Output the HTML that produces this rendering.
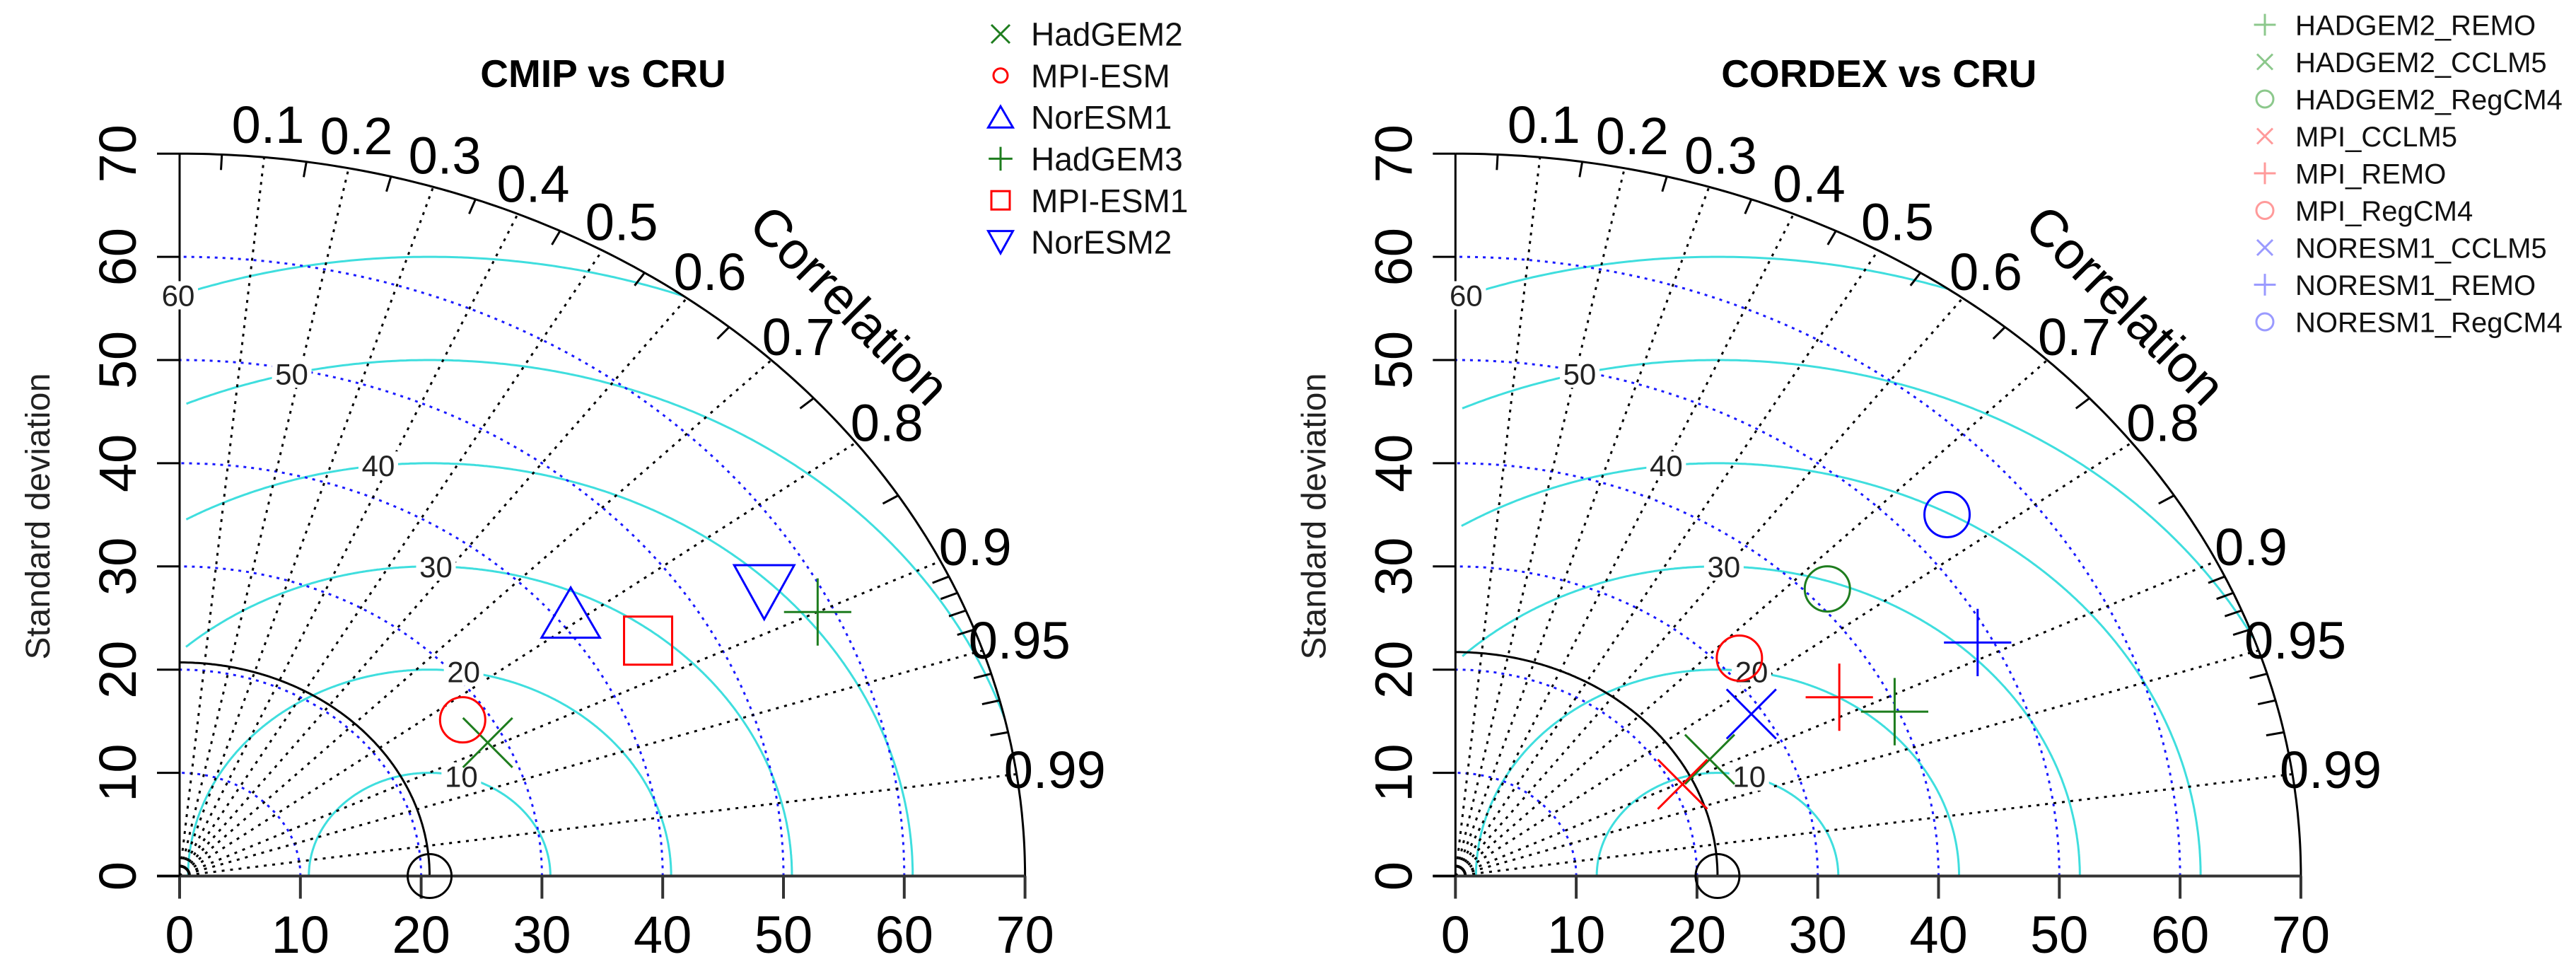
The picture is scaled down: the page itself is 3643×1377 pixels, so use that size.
<!DOCTYPE html>
<html><head><meta charset="utf-8"><style>
html,body{margin:0;padding:0;background:#fff;}
svg{display:block;}
text{font-family:"Liberation Sans",Arial,sans-serif;}
</style></head><body>
<svg id="chart" width="3643" height="1377" viewBox="0 0 3643 1377" xmlns="http://www.w3.org/2000/svg"></svg>
<script>
// ---------- data ----------
const corrTicks = [0.1,0.2,0.3,0.4,0.5,0.6,0.7,0.8,0.9,0.95,0.99];
const sdTicks = [0,10,20,30,40,50,60,70];
const rmsLevels = [10,20,30,40,50,60];
const cmipModels = ['HadGEM2','MPI-ESM','NorESM1','HadGEM3','MPI-ESM1','NorESM2'];
const cmipSd = [28.6,27.9,41.2,58.7,45.0,55.7];
const cmipCorr = [0.892,0.840,0.786,0.900,0.862,0.869];
const cmipShapes = ['x','o','tri','plus','sq','tridown'];
const cmipColors = ['#1e7d1e','#ff0000','#0000ff','#1e7d1e','#ff0000','#0000ff'];
const cmipRefSd = 20.7;
const cordexModels = ['HADGEM2_REMO','HADGEM2_CCLM5','HADGEM2_RegCM4','MPI_CCLM5','MPI_REMO','MPI_RegCM4','NORESM1_CCLM5','NORESM1_REMO','NORESM1_RegCM4'];
const cordexSd = [39.7,23.9,41.5,20.8,36.2,31.6,29.1,48.8,53.7];
const cordexCorr = [0.916,0.881,0.742,0.904,0.878,0.744,0.842,0.886,0.758];
const cordexShapes = ['plus','x','o','x','plus','o','x','plus','o'];
const cordexColors = ['#1e7d1e','#1e7d1e','#1e7d1e','#ff0000','#ff0000','#ff0000','#0000ff','#0000ff','#0000ff'];
const cordexLegendColors = ['#8cc88c','#8cc88c','#8cc88c','#ff9a9a','#ff9a9a','#ff9a9a','#9a9aff','#9a9aff','#9a9aff'];
const cordexRefSd = 21.7;

// ---------- layout ----------
const NS='http://www.w3.org/2000/svg';
const svg=document.getElementById('chart');
const KX=17.08, KY=14.59, OY=1238.5, RMAX=70;
function mk(tag,attrs,parent){const e=document.createElementNS(NS,tag);for(const k in attrs)e.setAttribute(k,attrs[k]);(parent||svg).appendChild(e);return e;}
function txt(s,attrs,parent){const e=mk('text',attrs,parent);e.textContent=s;return e;}

function drawMarker(g,shape,cx,cy,s,color,w){
  let e;
  if(shape==='x'){e=mk('path',{d:`M${cx-s} ${cy-s}L${cx+s} ${cy+s}M${cx-s} ${cy+s}L${cx+s} ${cy-s}`,stroke:color,'stroke-width':w,fill:'none'},g);}
  else if(shape==='plus'){e=mk('path',{d:`M${cx-s*1.4} ${cy}L${cx+s*1.4} ${cy}M${cx} ${cy-s*1.4}L${cx} ${cy+s*1.4}`,stroke:color,'stroke-width':w,fill:'none'},g);}
  else if(shape==='o'){e=mk('circle',{cx:cx,cy:cy,r:s,stroke:color,'stroke-width':w,fill:'none'},g);}
  else if(shape==='sq'){e=mk('rect',{x:cx-s,y:cy-s,width:2*s,height:2*s,stroke:color,'stroke-width':w,fill:'none'},g);}
  else if(shape==='tri'){e=mk('path',{d:`M${cx} ${cy-s*1.1}L${cx+s*1.25} ${cy+s*1.05}L${cx-s*1.25} ${cy+s*1.05}Z`,stroke:color,'stroke-width':w,fill:'none'},g);}
  else {e=mk('path',{d:`M${cx} ${cy+s*1.15}L${cx+s*1.25} ${cy-s*1.1}L${cx-s*1.25} ${cy-s*1.1}Z`,stroke:color,'stroke-width':w,fill:'none'},g);}
  return e;
}

function panel(OX,title,refSd,models,sds,corrs,shapes,colors,legendColors,legendX,legendY0,legendDY,legendFont,legendMS,legendTL,name){
  const X=v=>OX+v*KX, Y=v=>OY-v*KY;
  const g=mk('g',{});
  
  
  // cyan RMS contours
  rmsLevels.forEach((lev,i)=>{
    let segs=[],cur=[];
    for(let k=0;k<=720;k++){
      const a=Math.PI*k/720;
      const x=refSd+lev*Math.cos(a), y=lev*Math.sin(a);
      if(x>=0.5 && Math.hypot(x,y)<=RMAX){cur.push(X(x).toFixed(1)+','+Y(y).toFixed(1));}
      else if(cur.length){segs.push(cur);cur=[];}
    }
    if(cur.length)segs.push(cur);
    const p=mk('path',{d:segs.map(s=>'M'+s.join('L')).join(''),stroke:'#3fdede','stroke-width':3,fill:'none'},g);
    
    
  });
  // blue dotted sd arcs
  rmsLevels.forEach(lev=>{
    let pts=[];
    for(let k=0;k<=180;k++){const a=Math.PI/2*k/180;pts.push(X(lev*Math.cos(a)).toFixed(1)+','+Y(lev*Math.sin(a)).toFixed(1));}
    const p=mk('path',{d:'M'+pts.join('L'),stroke:'#1a1aff','stroke-width':3,'stroke-dasharray':'4 7',fill:'none'},g);
    
    
  });
  // radial correlation lines
  corrTicks.forEach(c=>{
    const a=Math.acos(c);
    const l=mk('line',{x1:X(0),y1:Y(0),x2:X(RMAX*Math.cos(a)),y2:Y(RMAX*Math.sin(a)),stroke:'#000','stroke-width':3,'stroke-dasharray':'4 8'},g);
    
    
  });
  // outer arc and reference arc
  [RMAX,refSd].forEach((r,j)=>{
    let pts=[];
    for(let k=0;k<=180;k++){const a=Math.PI/2*k/180;pts.push(X(r*Math.cos(a)).toFixed(1)+','+Y(r*Math.sin(a)).toFixed(1));}
    const p=mk('path',{d:'M'+pts.join('L'),stroke:'#000','stroke-width':3,fill:'none'},g);
    
    
  });
  // minor ticks on outer arc
  const minor=[0.05,0.15,0.25,0.35,0.45,0.55,0.65,0.75,0.85,0.91,0.92,0.93,0.94,0.96,0.97,0.98];
  minor.forEach(c=>{
    const a=Math.acos(c);
    const t=mk('line',{x1:X(RMAX*Math.cos(a)),y1:Y(RMAX*Math.sin(a)),x2:X(68.5*Math.cos(a)),y2:Y(68.5*Math.sin(a)),stroke:'#000','stroke-width':3},g);
    
    
  });
  // axes
  const xa=mk('line',{x1:OX-32,y1:OY,x2:X(RMAX),y2:OY,stroke:'#333','stroke-width':4},g);
  
  
  const ya=mk('line',{x1:OX,y1:OY+32,x2:OX,y2:Y(RMAX),stroke:'#000','stroke-width':3},g);
  
  
  sdTicks.forEach(v=>{
    const t1=mk('line',{x1:X(v),y1:OY,x2:X(v),y2:OY+32,stroke:'#333','stroke-width':4},g);
    
    
    const l1=txt(String(v),{x:X(v),y:1347,'text-anchor':'middle','font-size':74,fill:'#000'},g);
    
    
    const t2=mk('line',{x1:OX-32,y1:Y(v),x2:OX,y2:Y(v),stroke:'#000','stroke-width':3},g);
    
    
    const l2=txt(String(v),{x:0,y:0,'text-anchor':'middle','font-size':74,fill:'#000',transform:`translate(${OX-62},${Y(v)}) rotate(-90)`},g);
    
    
  });
  const yt=txt('Standard deviation',{x:0,y:0,'text-anchor':'middle','font-size':48,fill:'#222',textLength:405,transform:`translate(${OX-184},${730}) rotate(-90)`},g);
  
  
  // correlation labels
  corrTicks.forEach(c=>{
    const a=Math.acos(c);
    const l=txt(String(c),{x:X(73.2*Math.cos(a)),y:Y(73.2*Math.sin(a))+26,'text-anchor':'middle','font-size':74,fill:'#000'},g);
    
    
  });
  const ct=txt('Correlation',{x:0,y:26,'text-anchor':'middle','font-size':74,fill:'#000',transform:`translate(${OX+948},431) rotate(45)`},g);
  
  
  // rms labels
  rmsLevels.forEach((lev,i)=>{
    const ang=(67.7+7.1*(i+1))*Math.PI/180;
    const lx=X(refSd+lev*Math.cos(ang)), ly=Y(lev*Math.sin(ang));
    const bg=mk('rect',{x:lx-28,y:ly-20,width:56,height:40,fill:'#fff'},g);
    
    
    const l=txt(String(lev),{x:lx,y:ly+15,'text-anchor':'middle','font-size':42,fill:'#222'},g);
    
    
  });
  // reference point
  const rp=mk('circle',{cx:X(refSd),cy:OY,r:31,stroke:'#000','stroke-width':3,fill:'none'},g);
  
  
  // model points
  models.forEach((m,i)=>{
    const a=Math.acos(corrs[i]);
    const cx=X(sds[i]*Math.cos(a)), cy=Y(sds[i]*Math.sin(a));
    const sz={x:35,o:32,tri:33,plus:34,sq:34,tridown:34}[shapes[i]];
    const mkr=drawMarker(g,shapes[i],cx,cy,sz,colors[i],3);
    
    
  });
  // title
  const tt=txt(title,{x:OX+599,y:123,'text-anchor':'middle','font-size':55,'font-weight':'bold',fill:'#000'},g);
  
  
  // legend
  models.forEach((m,i)=>{
    const y=legendY0+i*legendDY;
    const lm=drawMarker(g,shapes[i],legendX,y,legendMS[shapes[i]],legendColors[i],3);
    
    
    const lt=txt(m,{x:legendX+43,y:y+legendFont*0.36,'font-size':legendFont,fill:'#111'},g);
    if(legendTL)lt.setAttribute('textLength',(legendTL*m.length).toFixed(0));
    
    
  });
}

panel(254,'CMIP vs CRU',cmipRefSd,cmipModels,cmipSd,cmipCorr,cmipShapes,cmipColors,cmipColors,
  1415,48,58.8,46,{x:13,o:10,tri:14,plus:12,sq:13,tridown:14},0,'cmip-panel');
panel(2058.3,'CORDEX vs CRU',cordexRefSd,cordexModels,cordexSd,cordexCorr,cordexShapes,cordexColors,cordexLegendColors,
  3203,35,52.5,40,{x:11,o:12,tri:12,plus:11,sq:12,tridown:12},0,'cordex-panel');
</script>
</body></html>
